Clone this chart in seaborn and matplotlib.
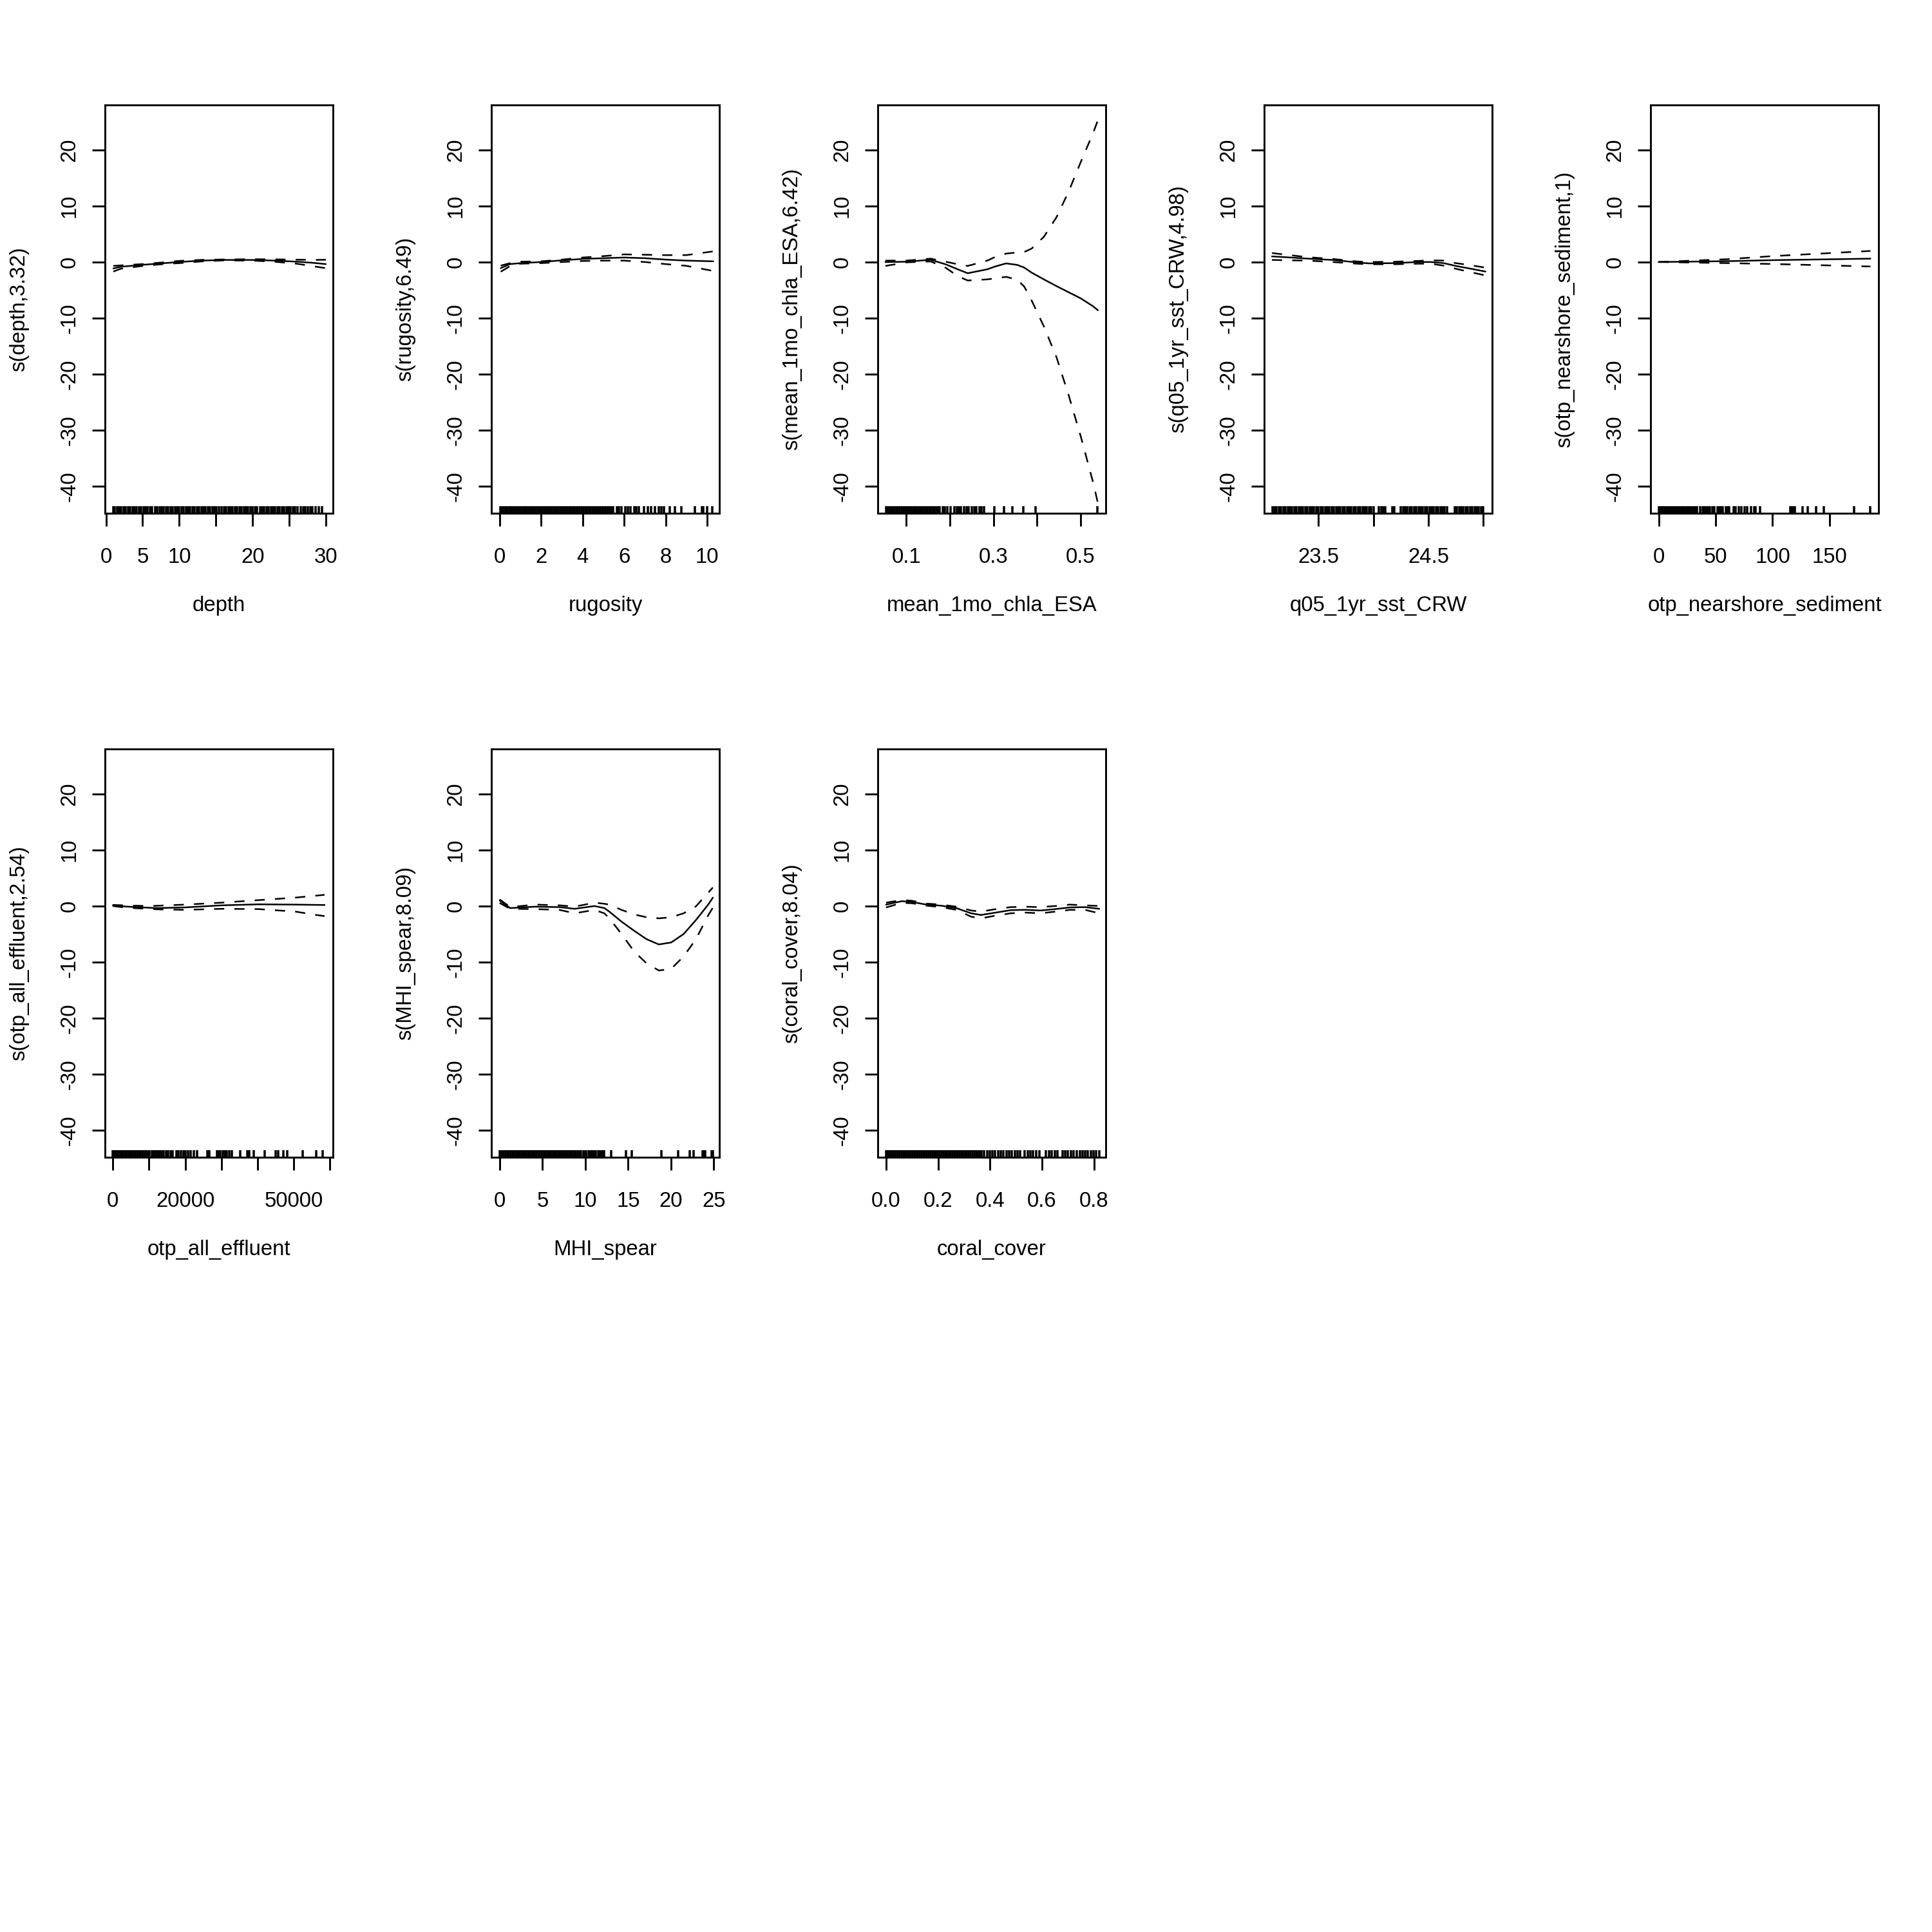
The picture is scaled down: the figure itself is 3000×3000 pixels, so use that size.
import matplotlib
matplotlib.use("Agg")
import matplotlib.pyplot as plt
import seaborn as sns

# ============================================================================
#                 VALUES
# ============================================================================
# each term: x grid, fitted smooth, upper / lower 2*SE band, rug of data points

depth_x = [1, 2, 5, 8, 10, 13, 16, 20, 23, 26, 28, 30]
depth_fit = [-1.15, -0.85, -0.5, -0.2, 0.0, 0.25, 0.37, 0.37, 0.25, 0.06, -0.12, -0.37]
depth_up = [-0.7, -0.6, -0.37, -0.05, 0.2, 0.38, 0.45, 0.5, 0.47, 0.42, 0.38, 0.4]
depth_lo = [-1.7, -1.2, -0.7, -0.35, -0.2, 0.1, 0.28, 0.25, 0.05, -0.3, -0.7, -1.1]
depth_rug = [1.0, 1.2, 1.5, 1.8, 2.1, 2.4, 2.7, 3.0, 3.3, 3.6, 3.9, 4.2, 4.5, 4.8, 5.1,
             5.4, 5.7, 6.0, 6.3, 6.7, 7.0, 7.3, 7.6, 7.9, 8.2, 8.5, 8.8, 9.1, 9.4, 9.7,
             10.0, 10.3, 10.6, 10.9, 11.2, 11.5, 11.8, 12.1, 12.4, 12.7, 13.0, 13.3, 13.6,
             13.9, 14.2, 14.5, 14.8, 15.1, 15.4, 15.8, 16.1, 16.4, 16.7, 17.0, 17.3, 17.6,
             17.9, 18.2, 18.5, 18.8, 19.1, 19.4, 19.7, 20.0, 20.3, 20.6, 21.0, 21.3, 21.6,
             21.9, 22.2, 22.5, 22.8, 23.1, 23.4, 23.7, 24.0, 24.3, 24.6, 24.9, 25.2, 25.5,
             25.8, 26.1, 26.6, 26.9, 27.2, 27.5, 27.9, 28.2, 28.6, 29.0, 29.5]

rug_x = [0.05, 0.5, 1, 2, 3, 4, 5, 6, 7, 8, 9, 10.3]
rug_fit = [-1.1, -0.37, -0.2, 0.0, 0.3, 0.55, 0.68, 0.8, 0.68, 0.43, 0.25, 0.12]
rug_up = [-0.65, -0.2, 0.06, 0.12, 0.43, 0.8, 1.05, 1.36, 1.3, 1.23, 1.23, 1.9]
rug_lo = [-1.73, -0.74, -0.3, -0.2, 0.0, 0.18, 0.25, 0.25, 0.0, -0.37, -0.68, -1.6]
rugosity_rug = [0.02, 0.1, 0.18, 0.27, 0.35, 0.44, 0.52, 0.6, 0.69, 0.78, 0.86, 0.95, 1.03,
                1.12, 1.2, 1.29, 1.37, 1.46, 1.55, 1.63, 1.72, 1.8, 1.89, 1.97, 2.06, 2.15,
                2.23, 2.32, 2.4, 2.49, 2.57, 2.66, 2.75, 2.83, 2.92, 3.0, 3.09, 3.17, 3.26,
                3.35, 3.43, 3.52, 3.6, 3.69, 3.77, 3.86, 3.95, 4.03, 4.12, 4.2, 4.29, 4.37,
                4.46, 4.55, 4.63, 4.72, 4.8, 4.89, 4.97, 5.05, 5.11, 5.2, 5.29, 5.37, 5.46,
                5.64, 5.75, 5.88, 6.06, 6.18, 6.3, 6.48, 6.6, 6.72, 6.96, 7.14, 7.31, 7.49,
                7.67, 7.79, 7.91, 8.21, 8.45, 8.75, 9.4, 9.76, 9.82, 10.0, 10.24]

chla_x = [0.052, 0.1, 0.156, 0.19, 0.218, 0.241, 0.286, 0.304, 0.329, 0.354, 0.371,
          0.388, 0.416, 0.445, 0.473, 0.501, 0.529, 0.54]
chla_fit = [0.0, 0.05, 0.4, -0.4, -1.3, -2.0, -1.3, -0.8, -0.25, -0.5, -1.0,
            -1.9, -3.1, -4.3, -5.4, -6.5, -7.9, -8.6]
chla_up = [0.25, 0.25, 0.6, 0.06, -0.4, -0.7, 0.25, 0.9, 1.5, 1.7, 1.8,
           2.4, 4.5, 8.0, 12.6, 17.9, 23.0, 25.3]
chla_lo = [-0.7, -0.06, 0.1, -1.0, -2.5, -3.3, -3.1, -2.9, -2.65, -3.1, -4.4,
           -6.9, -11.5, -17.0, -23.8, -31.2, -39.3, -43.0]
chla_rug = [0.053, 0.057, 0.061, 0.065, 0.069, 0.073, 0.077, 0.081, 0.085, 0.089, 0.093,
            0.097, 0.101, 0.105, 0.109, 0.113, 0.117, 0.121, 0.125, 0.129, 0.133, 0.137,
            0.141, 0.145, 0.149, 0.153, 0.157, 0.161, 0.165, 0.169, 0.173, 0.177, 0.1838,
            0.1889, 0.1938, 0.2012, 0.2111, 0.216, 0.2209, 0.2259, 0.2333, 0.2382, 0.2431,
            0.2505, 0.2556, 0.2604, 0.2679, 0.2728, 0.2778, 0.3015, 0.3246, 0.343, 0.369,
            0.3963, 0.5394]

sst_x = [23.077, 23.25, 23.403, 23.627, 23.85, 23.96, 24.19, 24.41, 24.52, 24.64,
         24.75, 24.86, 25.02]
sst_fit = [1.0, 0.8, 0.6, 0.37, -0.06, -0.25, -0.2, 0.0, 0.0, -0.2, -0.7, -1.1, -1.7]
sst_up = [1.6, 1.2, 0.86, 0.55, 0.1, 0.0, 0.05, 0.2, 0.3, 0.25, -0.2, -0.5, -1.0]
sst_lo = [0.37, 0.3, 0.25, 0.0, -0.3, -0.4, -0.4, -0.3, -0.3, -0.65, -1.2, -1.7, -2.4]
sst_rug = [23.08, 23.10, 23.12, 23.14, 23.16, 23.18, 23.20, 23.22, 23.24, 23.26, 23.28,
           23.30, 23.32, 23.34, 23.36, 23.38, 23.40, 23.42, 23.44, 23.46, 23.48, 23.50,
           23.52, 23.54, 23.56, 23.58, 23.60, 23.62, 23.64, 23.66, 23.68, 23.70, 23.72,
           23.74, 23.76, 23.78, 23.80, 23.82, 23.84, 23.86, 23.88, 23.90, 23.92, 23.94,
           23.96, 23.98, 24.00, 24.05, 24.07, 24.09, 24.11, 24.17, 24.19, 24.25, 24.27,
           24.29, 24.31, 24.33, 24.35, 24.37, 24.39, 24.41, 24.43, 24.45, 24.47, 24.49,
           24.51, 24.53, 24.55, 24.57, 24.59, 24.61, 24.63, 24.65, 24.67, 24.74, 24.76,
           24.78, 24.80, 24.82, 24.84, 24.86, 24.88, 24.90, 24.92, 24.94, 24.96, 24.98, 25.00]

sed_x = [0, 60, 100, 186]
sed_fit = [0.0, 0.15, 0.33, 0.6]
sed_up = [0.0, 0.5, 1.05, 1.97]
sed_lo = [0.0, -0.2, -0.35, -0.8]
sed_rug = [0, 0.8, 1.6, 2.5, 3.3, 4.2, 5.0, 5.9, 6.7, 7.6, 8.4, 9.3, 10.1, 11.0, 11.8, 12.7,
           13.5, 14.4, 15.2, 16.1, 17.0, 18.2, 19.5, 20.6, 21.8, 23.1, 24.5, 25.6, 27.0, 28.3,
           29.9, 31.2, 32.6, 33.9, 36.7, 38.6, 40.1, 41.4, 43.3, 45.2, 47.1, 49.0, 51.8, 53.3,
           54.6, 56.5, 58.9, 60.8, 62.1, 65.9, 67.8, 70.6, 72.9, 75.3, 77.8, 81.0, 83.8, 85.1,
           88.9, 115.8, 116.8, 118.1, 119.6, 126.2, 130.9, 138.4, 145.0, 171.4, 185.5]

eff_x = [0, 3630, 9720, 12430, 19900, 30100, 40280, 50480, 56250, 58500]
eff_fit = [0.12, -0.1, -0.3, -0.37, -0.25, 0.12, 0.3, 0.25, 0.2, 0.18]
eff_up = [0.2, 0.1, 0.0, 0.05, 0.25, 0.6, 1.05, 1.5, 1.85, 2.0]
eff_lo = [0.0, -0.3, -0.5, -0.6, -0.68, -0.5, -0.55, -1.0, -1.6, -1.8]
eff_rug = [0, 300, 700, 1200, 1700, 2200, 2700, 3200, 3700, 4200, 4700, 5200, 5700, 6200,
           6700, 7200, 7700, 8200, 8700, 9200, 9700, 10100, 10800, 11300, 11900, 12400,
           13000, 13500, 14100, 14700, 15300, 15900, 16500, 17500, 18200, 18900, 19500,
           20100, 20800, 21500, 22300, 23300, 26030, 26700, 28750, 29080, 29760, 30440,
           30920, 31460, 32140, 32810, 35200, 37230, 37710, 38940, 42000, 45060, 45730,
           47090, 48110, 52530, 56260, 57960]

spear_x = [0, 1.24, 4.13, 7.02, 8.75, 11.07, 12.22, 12.8, 14.24, 15.69, 17.13, 18.58,
           20.02, 21.47, 22.91, 24.36, 24.88]
spear_fit = [1.0, -0.37, -0.12, -0.2, -0.5, 0.0, -0.37, -1.0, -2.8, -4.4, -5.9, -6.85,
             -6.5, -5.0, -2.5, 0.3, 1.5]
spear_up = [1.17, -0.2, 0.25, 0.12, -0.12, 0.6, 0.4, 0.25, -0.7, -1.5, -2.0, -2.2,
            -2.0, -1.3, -0.06, 2.4, 3.3]
spear_lo = [0.55, -0.5, -0.55, -0.7, -1.3, -0.7, -1.3, -2.2, -5.0, -8.1, -10.2, -11.5,
            -11.2, -9.0, -5.9, -1.6, -0.3]
spear_rug = [0, 0.1, 0.2, 0.35, 0.5, 0.7, 0.9, 1.1, 1.3, 1.5, 1.7, 1.9, 2.1, 2.3, 2.5, 2.7,
             2.9, 3.1, 3.3, 3.5, 3.7, 3.9, 4.1, 4.3, 4.5, 4.7, 4.9, 5.1, 5.3, 5.5, 5.7, 5.9,
             6.1, 6.3, 6.5, 6.7, 6.9, 7.1, 7.3, 7.5, 7.7, 7.9, 8.1, 8.3, 8.5, 8.7, 8.9, 9.1,
             9.35, 9.5, 9.75, 10.0, 10.1, 10.35, 10.5, 10.75, 11.0, 11.25, 11.5, 11.6, 11.85,
             12.05, 12.2, 13.0, 14.72, 15.45, 18.89, 20.83, 22.15, 22.6, 23.69, 23.86, 23.99,
             24.75, 24.87]

coral_x = [0, 0.06, 0.098, 0.155, 0.212, 0.27, 0.327, 0.365, 0.422, 0.479, 0.536, 0.594,
           0.651, 0.708, 0.765, 0.82]
coral_fit = [0.25, 0.86, 0.74, 0.25, 0.06, -0.37, -1.3, -1.6, -1.17, -0.74, -0.68, -0.8,
             -0.55, -0.25, -0.2, -0.5]
coral_up = [0.6, 1.05, 0.95, 0.43, 0.25, -0.12, -0.8, -1.0, -0.55, -0.2, -0.12, -0.2,
            0.0, 0.25, 0.12, 0.0]
coral_lo = [-0.25, 0.55, 0.5, 0.06, -0.2, -0.68, -1.9, -2.2, -1.7, -1.3, -1.17, -1.3,
            -1.0, -0.68, -0.68, -1.3]
coral_rug = [0, 0.005, 0.01, 0.017, 0.024, 0.031, 0.038, 0.045, 0.052, 0.059, 0.066, 0.073,
             0.08, 0.087, 0.094, 0.101, 0.108, 0.115, 0.122, 0.129, 0.136, 0.143, 0.15,
             0.157, 0.164, 0.171, 0.178, 0.185, 0.192, 0.199, 0.206, 0.213, 0.22, 0.227,
             0.234, 0.241, 0.248, 0.255, 0.262, 0.269, 0.276, 0.283, 0.29, 0.297, 0.304,
             0.311, 0.318, 0.325, 0.332, 0.339, 0.346, 0.353, 0.36, 0.368, 0.378, 0.39,
             0.398, 0.41, 0.42, 0.432, 0.44, 0.452, 0.463, 0.474, 0.483, 0.495, 0.505, 0.515,
             0.532, 0.545, 0.556, 0.566, 0.578, 0.59, 0.615, 0.627, 0.638, 0.65, 0.66, 0.68,
             0.69, 0.7, 0.712, 0.722, 0.733, 0.745, 0.755, 0.766, 0.776, 0.787, 0.797,
             0.808, 0.82]

y_ticks = [-40, -30, -20, -10, 0, 10, 20]

#============================================================================
#                          PANEL SETUP
#============================================================================
panels = [
    dict(xlab="depth", ylab="s(depth,3.32)", x=depth_x, fit=depth_fit, up=depth_up,
         lo=depth_lo, rug=depth_rug, xlim=(-0.14, 30.97),
         ticks=[0, 5, 10, 15, 20, 25, 30], labels=["0", "5", "10", "", "20", "", "30"]),
    dict(xlab="rugosity", ylab="s(rugosity,6.49)", x=rug_x, fit=rug_fit, up=rug_up,
         lo=rug_lo, rug=rugosity_rug, xlim=(-0.40, 10.59),
         ticks=[0, 2, 4, 6, 8, 10], labels=["0", "2", "4", "6", "8", "10"]),
    dict(xlab="mean_1mo_chla_ESA", ylab="s(mean_1mo_chla_ESA,6.42)", x=chla_x, fit=chla_fit,
         up=chla_up, lo=chla_lo, rug=chla_rug, xlim=(0.0345, 0.558),
         ticks=[0.1, 0.2, 0.3, 0.4, 0.5], labels=["0.1", "", "0.3", "", "0.5"]),
    dict(xlab="q05_1yr_sst_CRW", ylab="s(q05_1yr_sst_CRW,4.98)", x=sst_x, fit=sst_fit,
         up=sst_up, lo=sst_lo, rug=sst_rug, xlim=(23.006, 25.081),
         ticks=[23.5, 24.0, 24.5, 25.0], labels=["23.5", "", "24.5", ""]),
    dict(xlab="otp_nearshore_sediment", ylab="s(otp_nearshore_sediment,1)", x=sed_x,
         fit=sed_fit, up=sed_up, lo=sed_lo, rug=sed_rug, xlim=(-7.1, 193.1),
         ticks=[0, 50, 100, 150], labels=["0", "50", "100", "150"]),
    dict(xlab="otp_all_effluent", ylab="s(otp_all_effluent,2.54)", x=eff_x, fit=eff_fit,
         up=eff_up, lo=eff_lo, rug=eff_rug, xlim=(-2170, 60810),
         ticks=[0, 10000, 20000, 30000, 40000, 50000, 60000],
         labels=["0", "", "20000", "", "", "50000", ""]),
    dict(xlab="MHI_spear", ylab="s(MHI_spear,8.09)", x=spear_x, fit=spear_fit, up=spear_up,
         lo=spear_lo, rug=spear_rug, xlim=(-0.96, 25.64),
         ticks=[0, 5, 10, 15, 20, 25], labels=["0", "5", "10", "15", "20", "25"]),
    dict(xlab="coral_cover", ylab="s(coral_cover,8.04)", x=coral_x, fit=coral_fit,
         up=coral_up, lo=coral_lo, rug=coral_rug, xlim=(-0.032, 0.845),
         ticks=[0.0, 0.2, 0.4, 0.6, 0.8], labels=["0.0", "0.2", "0.4", "0.6", "0.8"]),
]

sns.set_theme(style="white", rc={"axes.edgecolor": "black", "text.color": "black",
                                 "axes.labelcolor": "black", "xtick.color": "black",
                                 "ytick.color": "black"})
plt.rcParams["font.family"] = ["Liberation Sans", "DejaVu Sans"]

FS = 7.9
LW = 0.6      # curves
BOX_LW = 0.7  # frame and ticks
fig = plt.figure(figsize=(10, 10), dpi=300)
fig.patch.set_facecolor("white")

for i, p in enumerate(panels):
    row, col = divmod(i, 5)
    ax = fig.add_axes([(col * 600 + 163) / 3000, 1 - (row * 1000 + 797) / 3000,
                       354 / 3000, 634 / 3000])

    sns.lineplot(x=p["x"], y=p["fit"], ax=ax, color="black", lw=LW,
                 estimator=None, sort=False)
    for band in ("up", "lo"):
        sns.lineplot(x=p["x"], y=p[band], ax=ax, color="black", lw=LW,
                     linestyle=(0, (6.3, 6.3)), estimator=None, sort=False)
    sns.rugplot(x=p["rug"], ax=ax, height=0.017, color="black", linewidth=0.85,
                expand_margins=False)

    ax.set_xlim(*p["xlim"])
    ax.set_ylim(-44.8, 28)
    ax.set_xticks(p["ticks"])
    ax.set_xticklabels(p["labels"])
    ax.set_yticks(y_ticks)
    ax.set_yticklabels([str(v) for v in y_ticks])

    for s in ax.spines.values():
        s.set_visible(True)
        s.set_linewidth(BOX_LW)
        s.set_color("black")

    ax.tick_params(direction="out", length=4.8, width=BOX_LW, labelsize=FS,
                   bottom=True, left=True)
    ax.tick_params(axis="x", pad=7.9)
    ax.tick_params(axis="y", pad=4.6, labelrotation=90)
    for t in ax.get_yticklabels():
        t.set_va("center")

    ax.set_xlabel(p["xlab"], fontsize=FS, va="baseline")
    ax.xaxis.set_label_coords(0.5, -0.2397)
    ax.set_ylabel(p["ylab"], fontsize=FS, va="baseline")
    ax.yaxis.set_label_coords(-0.352, 0.5)
    ax.grid(False)

fig.savefig("out.png", dpi=300, facecolor="white")
